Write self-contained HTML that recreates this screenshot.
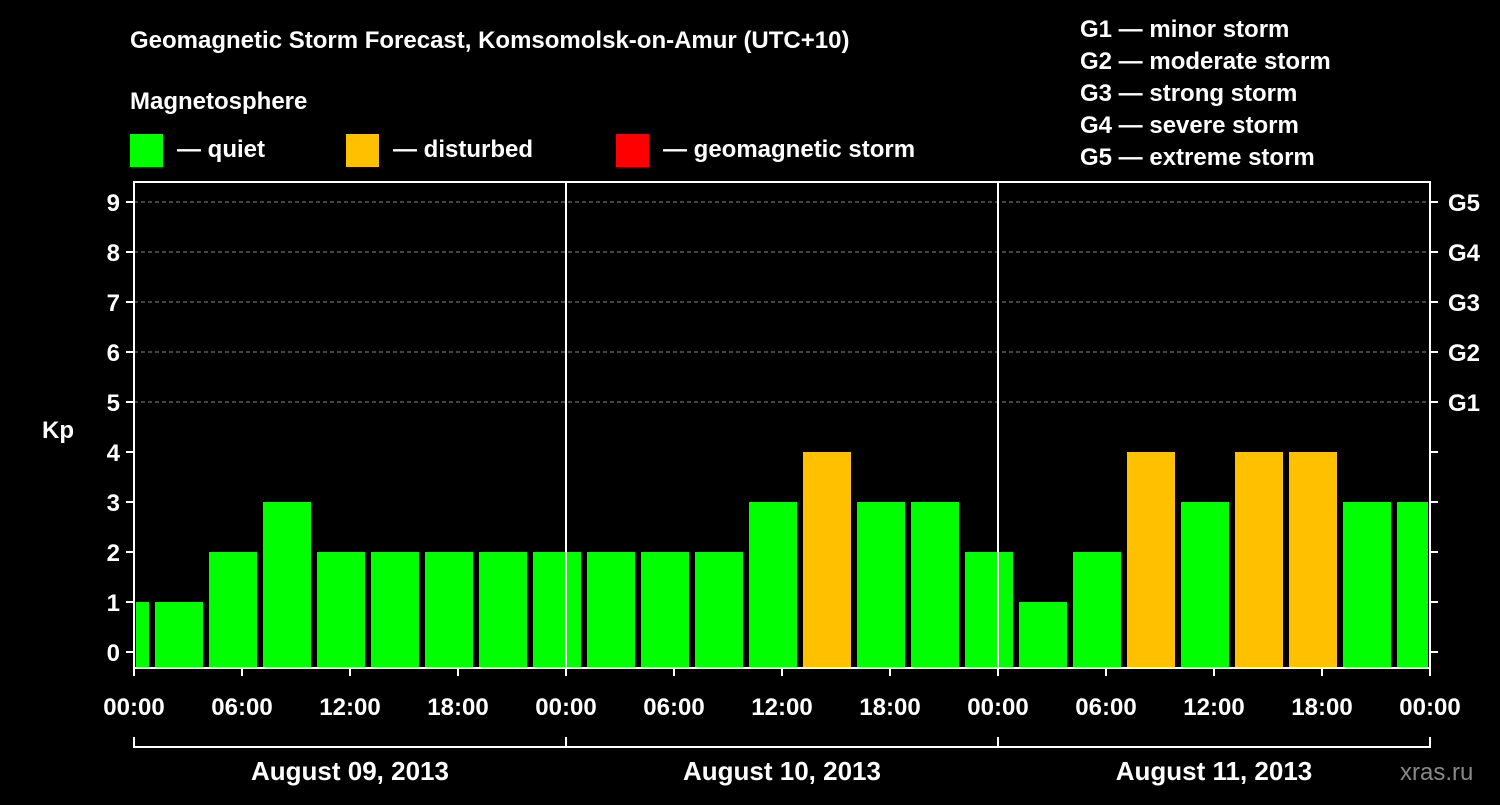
<!DOCTYPE html>
<html><head><meta charset="utf-8"><style>
body{margin:0;background:#000;}
svg text{font-family:"Liberation Sans",sans-serif;font-weight:bold;fill:#fff;}
</style></head><body>
<svg id="c" width="1500" height="800" xmlns="http://www.w3.org/2000/svg">
<rect width="1500" height="800" fill="#000"/>
<text x="130" y="48" font-size="24">Geomagnetic Storm Forecast, Komsomolsk-on-Amur (UTC+10)</text>
<text x="130" y="109" font-size="24">Magnetosphere</text>
<g><rect x="130" y="134" width="33" height="33" fill="#00ff00"/><text x="177" y="157" font-size="24">— quiet</text></g>
<g><rect x="346" y="134" width="33" height="33" fill="#ffc000"/><text x="393" y="157" font-size="24">— disturbed</text></g>
<g><rect x="616" y="134" width="33" height="33" fill="#ff0000"/><text x="663" y="157" font-size="24">— geomagnetic storm</text></g>
<g font-size="24">
<text x="1080" y="37">G1 — minor storm</text><text x="1080" y="69">G2 — moderate storm</text><text x="1080" y="101">G3 — strong storm</text><text x="1080" y="133">G4 — severe storm</text><text x="1080" y="165">G5 — extreme storm</text></g>
<g id="plot"></g>
<text x="42" y="438" font-size="24">Kp</text>
<text x="1400" y="780" font-size="24" fill="#888" style="fill:#888;font-weight:normal">xras.ru</text>
</svg>
<script>
const kpValues=[1,1,2,3,2,2,2,2,2,2,2,2,3,4,3,3,2,1,2,4,3,4,4,3,3];
const yTicks=[0,1,2,3,4,5,6,7,8,9];
const gLabels=["G1","G2","G3","G4","G5"];
const hourLabels=["00:00","06:00","12:00","18:00","00:00","06:00","12:00","18:00","00:00","06:00","12:00","18:00","00:00"];
const dayLabels=["August 09, 2013","August 10, 2013","August 11, 2013"];
const NS="http://www.w3.org/2000/svg";
const g=document.getElementById('plot');
const X0=134,PH=18,L=134,R=1430,T=182,B=668;
const xs=h=>X0+h*PH, ys=v=>652-50*v;
function mk(t,a,txt){const e=document.createElementNS(NS,t);for(const k in a)e.setAttribute(k,a[k]);if(txt!=null)e.textContent=txt;g.appendChild(e);return e;}
// grid
for(const v of yTicks){if(v>=5){const e=mk('line',{x1:L,x2:R,y1:ys(v),y2:ys(v),stroke:'#888','stroke-dasharray':'4,3'});}}
// bars
kpValues.forEach((v,k)=>{let a=xs(-2+3*k)+3,b=xs(1+3*k)-3;a=Math.max(a,L+2);b=Math.min(b,R-2);
const e=mk('rect',{x:a,y:ys(v),width:b-a,height:B-ys(v),fill:v>=5?'#ff0000':v>=4?'#ffc000':'#00ff00'});
});
// frame
const fr=mk('rect',{x:L,y:T,width:R-L,height:B-T,fill:'none',stroke:'#fff','stroke-width':2});

for(const d of [1,2]){const e=mk('line',{x1:xs(24*d),x2:xs(24*d),y1:T,y2:B,stroke:'#fff','stroke-width':2});}
// y ticks
for(const v of yTicks){mk('line',{x1:L-8,x2:L,y1:ys(v),y2:ys(v),stroke:'#fff','stroke-width':2});mk('line',{x1:R,x2:R+8,y1:ys(v),y2:ys(v),stroke:'#fff','stroke-width':2});
const t=mk('text',{x:L-14,y:ys(v)+9,'font-size':24,'text-anchor':'end'},v);}
gLabels.forEach((s,i)=>{const t=mk('text',{x:R+18,y:ys(5+i)+9,'font-size':24},s);});
// x ticks
hourLabels.forEach((s,i)=>{const x=xs(6*i);mk('line',{x1:x,x2:x,y1:B,y2:B+8,stroke:'#fff','stroke-width':2});
const t=mk('text',{x:x,y:715,'font-size':24,'text-anchor':'middle'},s);});
// day brackets
const br=mk('line',{x1:L,x2:R,y1:747,y2:747,stroke:'#fff','stroke-width':2});
for(let d=0;d<=3;d++)mk('line',{x1:xs(24*d),x2:xs(24*d),y1:737,y2:748,stroke:'#fff','stroke-width':2});
dayLabels.forEach((s,i)=>{const t=mk('text',{x:xs(24*i+12),y:780,'font-size':26,'text-anchor':'middle'},s);});
</script>
</body></html>
